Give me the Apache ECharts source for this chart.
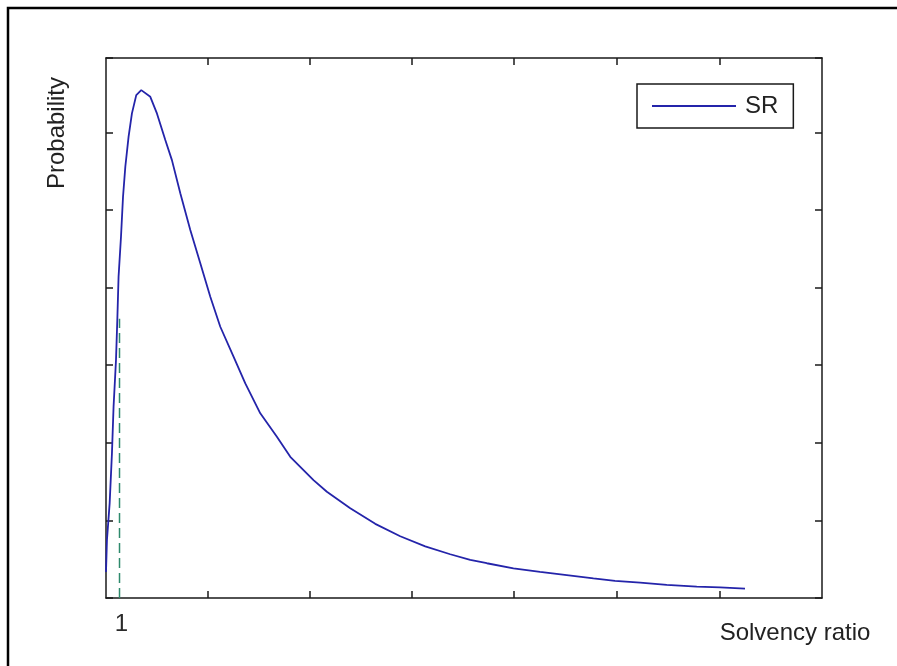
<!DOCTYPE html>
<html>
<head>
<meta charset="utf-8">
<script src="https://cdn.jsdelivr.net/npm/echarts@6/dist/echarts.min.js"></script>
<style>
  html, body { margin: 0; padding: 0; background: #fff; }
  #chart { width: 897px; height: 666px; }
</style>
</head>
<body>
<div id="chart"></div>
<script>
// Solvency ratio density curve
const srX = [0.900, 0.902, 0.907, 0.927, 0.944, 0.956, 0.974, 0.984, 0.993, 1.011, 1.026, 1.043, 1.067, 1.092, 1.124, 1.161,
             1.228, 1.277, 1.339, 1.388, 1.450, 1.524, 1.598, 1.672, 1.746, 1.844, 1.931, 2.042, 2.165, 2.264, 2.436,
             2.535, 2.708, 2.893, 3.078, 3.263, 3.448, 3.596, 3.719, 3.916, 4.113, 4.311, 4.508, 4.668, 4.854, 5.051,
             5.273, 5.445, 5.630];
const srY = [0.0168, 0.0180, 0.0374, 0.0610, 0.0932, 0.1233, 0.1534, 0.1800, 0.2070, 0.2328, 0.2586, 0.2779, 0.2972, 0.3123, 0.3241, 0.3273,
             0.3230, 0.3123, 0.2951, 0.2822, 0.2608, 0.2371, 0.2157, 0.1941, 0.1748, 0.1555, 0.1383, 0.1190, 0.1039, 0.0910, 0.0760,
             0.0685, 0.0578, 0.0478, 0.0398, 0.0333, 0.0282, 0.0245, 0.0224, 0.0191, 0.0169, 0.0148, 0.0127, 0.0111, 0.0099, 0.0084,
             0.0073, 0.0068, 0.0060];

// Threshold at a solvency ratio of 1
const thresholdX = [1, 1];
const thresholdY = [0, 0.180];

// Axis ticks and labels
const xTicks = [1.65, 2.41, 3.16, 3.92, 4.68, 5.44];
const xLabelValues = [1];
const xRange = [0.9, 6.2];
const yRange = [0, 0.348];
const yInterval = 0.05;

const FONT = '"Liberation Sans", Arial, sans-serif';
const AXIS_COLOR = '#1a1a1a';
const CURVE_COLOR = '#2424aa';

function xAxisDef(position, withLabel) {
  return {
    type: 'value',
    position: position,
    min: xRange[0],
    max: xRange[1],
    axisLine: { show: true, onZero: false, lineStyle: { color: AXIS_COLOR, width: 1.5 } },
    axisTick: { show: true, inside: true, length: 7, customValues: xTicks,
                lineStyle: { color: AXIS_COLOR, width: 1.5 } },
    axisLabel: withLabel ? {
      show: true, customValues: xLabelValues, margin: 14,
      formatter: v => String(v), color: '#2a2a2a', fontSize: 24, fontFamily: FONT,
      padding: [0, 0, 0, 4]
    } : { show: false },
    splitLine: { show: false }
  };
}

function yAxisDef(position) {
  return {
    type: 'value',
    position: position,
    min: yRange[0],
    max: yRange[1],
    interval: yInterval,
    axisLine: { show: true, onZero: false, lineStyle: { color: AXIS_COLOR, width: 1.5 } },
    axisTick: { show: true, inside: true, length: 7, lineStyle: { color: AXIS_COLOR, width: 1.5 } },
    axisLabel: { show: false },
    splitLine: { show: false }
  };
}

const chart = echarts.init(document.getElementById('chart'), null, { renderer: 'canvas' });
chart.setOption({
  animation: false,
  backgroundColor: '#fff',
  grid: { left: 106, right: 75, top: 58, bottom: 68, containLabel: false },
  xAxis: [xAxisDef('bottom', true), xAxisDef('top', false)],
  yAxis: [yAxisDef('left'), yAxisDef('right')],
  legend: {
    data: ['SR'],
    left: 637,
    top: 84,
    orient: 'vertical',
    padding: [10, 15, 10, 15],
    icon: 'rect',
    itemWidth: 84,
    itemHeight: 2,
    backgroundColor: '#fff',
    borderColor: '#1a1a1a',
    borderWidth: 1.5,
    borderRadius: 0,
    textStyle: { fontSize: 24, fontFamily: FONT, color: '#222', padding: [0, 0, 0, 4] }
  },
  graphic: [
    {
      type: 'rect', silent: true, z: 100,
      shape: { x: 8, y: 8, width: 1000, height: 1000 },
      style: { fill: 'none', stroke: '#000', lineWidth: 2.5 }
    },
    {
      type: 'text', silent: true,
      x: 57, y: 133, rotation: Math.PI / 2,
      style: { text: 'Probability', fontSize: 24, fontFamily: FONT, fill: '#222',
               align: 'center', verticalAlign: 'middle' }
    },
    {
      type: 'text', silent: true,
      x: 795, y: 633,
      style: { text: 'Solvency ratio', fontSize: 24, fontFamily: FONT, fill: '#222',
               align: 'center', verticalAlign: 'middle' }
    }
  ],
  series: [
    {
      name: 'SR',
      type: 'line',
      data: srX.map((x, i) => [x, srY[i]]),
      symbol: 'none',
      smooth: false,
      lineStyle: { color: CURVE_COLOR, width: 1.8 },
      itemStyle: { color: CURVE_COLOR },
      z: 3
    },
    {
      name: 'threshold',
      type: 'line',
      data: thresholdX.map((x, i) => [x, thresholdY[i]]),
      symbol: 'none',
      lineStyle: { color: '#2e8a6c', width: 1.5, type: [10, 5] },
      itemStyle: { color: '#2e8a6c' },
      z: 2
    }
  ]
});
</script>
</body>
</html>
